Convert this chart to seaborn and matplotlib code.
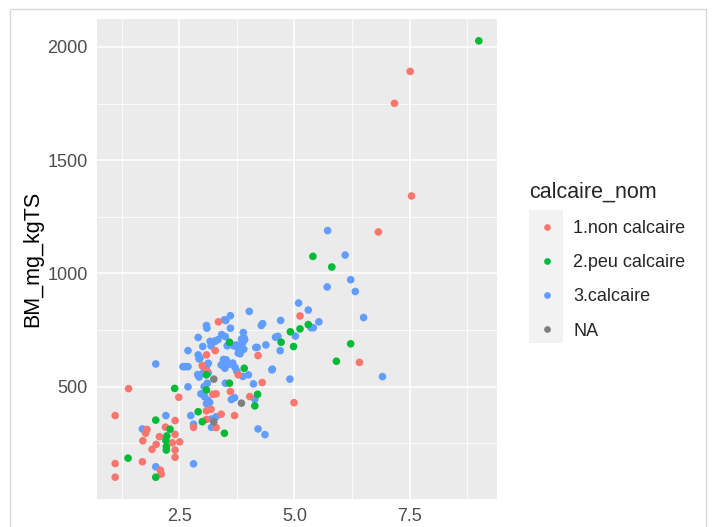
import matplotlib
matplotlib.use("Agg")
import matplotlib.pyplot as plt
from matplotlib.lines import Line2D
from matplotlib.patches import Rectangle
from matplotlib.ticker import MultipleLocator
import numpy as np
import pandas as pd
import seaborn as sns

# ---- data -------------------------------------------------------------
categories = ["1.non calcaire", "2.peu calcaire", "3.calcaire", "NA"]
colors = ["#F8766D", "#00BA38", "#619CFF", "#7F7F7F"]

non_calc_x = [1.11, 1.11, 1.11, 1.40, 1.70, 1.71, 1.77, 1.80, 1.91, 2.00, 2.07, 2.09,
              2.11, 2.20, 2.35, 2.41, 2.41, 2.41, 2.41, 2.51, 2.49, 2.81, 3.00, 3.09,
              3.28, 3.35, 3.10, 3.09, 3.19, 3.23, 3.30, 3.09, 3.30, 3.41, 3.61, 3.70,
              3.78, 4.03, 4.21, 4.30, 4.99, 5.12, 6.41, 6.82, 7.17, 7.51, 7.54]
non_calc_y = [372, 160, 100, 491, 168, 261, 294, 311, 223, 245, 279, 131,
              114, 321, 252, 350, 289, 220, 188, 256, 453, 320, 593, 640,
              659, 786, 569, 393, 400, 466, 468, 355, 319, 378, 478, 372,
              552, 456, 637, 518, 429, 812, 607, 1183, 1751, 1892, 1342]

peu_calc_x = [1.39, 1.99, 1.99, 2.30, 2.23, 2.22, 2.22, 2.21, 2.40, 2.91, 3.00, 3.09,
              3.09, 3.48, 3.59, 3.59, 3.91, 4.14, 4.20, 4.71, 4.91, 4.98, 5.12, 5.30,
              5.40, 5.81, 5.91, 6.22, 9.00]
peu_calc_y = [184, 352, 100, 312, 282, 235, 220, 262, 492, 389, 345, 485,
              552, 294, 515, 696, 581, 415, 466, 696, 742, 677, 755, 774,
              1075, 1028, 612, 689, 2027]

calc_x = [1.70, 1.99, 1.99, 2.21, 2.81, 2.75, 2.81, 2.69, 2.69, 2.58, 2.63, 2.69,
          2.91, 3.09, 3.10, 3.01, 2.91, 2.93, 2.90, 2.93, 3.01, 3.07, 3.19, 3.28,
          3.17, 3.13, 3.09, 3.02, 3.13, 3.11, 3.04, 2.97, 3.05, 3.12, 3.16, 3.09,
          3.20, 3.30, 3.20, 3.51, 3.61, 3.48, 3.61, 3.50, 3.46, 3.51, 3.58, 3.66,
          3.71, 3.75, 3.44, 3.54, 3.68, 3.77, 3.82, 3.90, 3.88, 3.89, 3.91, 4.02,
          3.88, 4.00, 4.11, 3.50, 3.70, 3.63, 4.14, 4.19, 4.38, 4.51, 4.59, 4.64,
          4.70, 4.28, 4.31, 4.69, 4.90, 4.21, 4.36, 5.02, 5.09, 5.30, 5.53, 5.36,
          5.41, 5.71, 6.22, 6.32, 6.50, 6.91, 5.72, 6.10, 3.34, 3.42, 3.41, 3.49,
          3.52, 3.74, 3.81, 3.85, 3.92, 3.78, 4.16, 4.52, 2.95, 3.27]
calc_y = [313, 600, 146, 372, 159, 372, 334, 499, 659, 588, 588, 588,
          717, 770, 758, 677, 640, 622, 553, 542, 590, 575, 680, 702,
          700, 603, 590, 560, 560, 515, 500, 468, 455, 440, 430, 425,
          357, 367, 320, 792, 813, 795, 758, 721, 620, 612, 598, 604,
          585, 568, 594, 680, 680, 672, 645, 665, 694, 739, 714, 832,
          545, 552, 512, 515, 451, 443, 444, 673, 684, 574, 718, 722,
          792, 770, 778, 659, 533, 313, 288, 723, 869, 838, 786, 760,
          760, 940, 972, 920, 805, 544, 1189, 1081, 707, 730, 596, 581,
          618, 684, 677, 710, 707, 648, 673, 577, 625, 699]

na_x = [3.25, 3.25, 3.85]
na_y = [533, 345, 427]

df = pd.concat([
    pd.DataFrame({"x": calc_x, "BM_mg_kgTS": calc_y, "calcaire_nom": categories[2]}),
    pd.DataFrame({"x": non_calc_x, "BM_mg_kgTS": non_calc_y, "calcaire_nom": categories[0]}),
    pd.DataFrame({"x": peu_calc_x, "BM_mg_kgTS": peu_calc_y, "calcaire_nom": categories[1]}),
    pd.DataFrame({"x": na_x, "BM_mg_kgTS": na_y, "calcaire_nom": categories[3]}),
], ignore_index=True)

# ---- style ------------------------------------------------------------
sns.set_style("darkgrid")
plt.rcParams["font.family"] = ["Liberation Sans", "DejaVu Sans"]

W, H = 712, 527
fig = plt.figure(figsize=(W / 100, H / 100), dpi=100)
ax = fig.add_axes([97 / W, 1 - 499 / H, 400 / W, 480 / H])

sns.scatterplot(data=df, x="x", y="BM_mg_kgTS", hue="calcaire_nom",
                hue_order=categories, palette=colors, s=30, linewidth=0,
                ax=ax, legend=False, zorder=3)

ax.margins(x=0.05, y=0.05)
ax.set_facecolor("#ebebeb")
ax.set_axisbelow(True)
for sp in ax.spines.values():
    sp.set_visible(False)

ax.xaxis.set_major_locator(MultipleLocator(2.5))
ax.xaxis.set_minor_locator(MultipleLocator(1.25))
ax.yaxis.set_major_locator(MultipleLocator(500))
ax.yaxis.set_minor_locator(MultipleLocator(250))
ax.grid(which="major", color="white", linewidth=1.1)
ax.grid(which="minor", color="white", linewidth=0.55)
ax.tick_params(which="major", length=4.3, width=0.8, color="#333333",
               labelcolor="#4d4d4d", labelsize=13, pad=2.5)
ax.tick_params(which="minor", length=0)

ax.set_xlabel("")
ax.set_ylabel("BM_mg_kgTS", fontsize=15.5, color="black", labelpad=3)

# ---- legend -----------------------------------------------------------
handles = [Line2D([], [], marker="o", linestyle="", color=c, markersize=3.8)
           for c in colors]
leg = ax.legend(handles, categories, title="calcaire_nom", loc="upper left",
                bbox_to_anchor=(529 / W, 1 - 182 / H), bbox_transform=fig.transFigure,
                frameon=False, borderpad=0, borderaxespad=0, handlelength=2.0,
                handletextpad=0.45, labelspacing=0.95, fontsize=13,
                title_fontsize=15.5, alignment="left")

# key background column
fig.add_artist(Rectangle((529 / W, 1 - 343 / H), 34 / W, 133 / H,
                         transform=fig.transFigure, facecolor="#f2f2f2",
                         edgecolor="none", zorder=-1))

# outer frame
fig.add_artist(Rectangle((10 / W, -0.05), 696 / W, 1.05 - 9 / H,
                         transform=fig.transFigure, fill=False,
                         edgecolor="#d9d9d9", linewidth=1.0))

fig.savefig("out.png", dpi=100)
